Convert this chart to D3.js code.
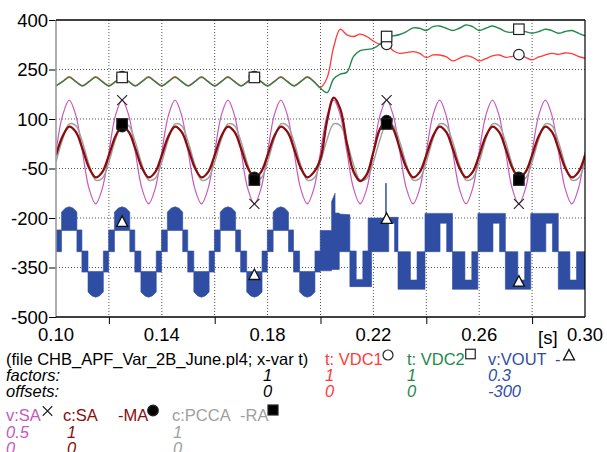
<!DOCTYPE html>
<html>
<head>
<meta charset="utf-8">
<script src="https://cdn.jsdelivr.net/npm/d3@7"></script>
<style>
  body { margin: 0; background: #fff; }
  svg { display: block; font-family: 'Liberation Sans', Arial, sans-serif; }
</style>
</head>
<body>
<div id="chart"></div>
<script>
// samples every 2.5 ms from 0.10 s to 0.30 s
const sampleStep = 0.0025;
const sampleCount = 81;

const vdc1 = [
  201, 214, 228, 214, 201, 214, 228, 214, 201, 214, 228, 214, 201, 214, 228, 214,
  201, 214, 228, 214, 201, 214, 228, 214, 201, 214, 228, 214, 201, 214, 228, 214,
  201, 214, 228, 214, 201, 214, 228, 214,
  196, 225, 319, 372, 355, 350, 357, 350, 336, 326, 326, 307, 299, 301, 304, 299,
  286, 294, 294, 289, 276, 284, 291, 287, 276, 283, 291, 294, 287, 290, 295, 287,
  279, 288, 294, 299, 296, 300, 298, 290, 284,
];

const vdc2 = [
  200, 213, 226, 213, 200, 213, 226, 213, 200, 213, 226, 213, 200, 213, 226, 213,
  200, 213, 226, 213, 200, 213, 226, 213, 200, 213, 226, 213, 200, 213, 226, 213,
  200, 213, 226, 213, 200, 213, 226, 213,
  193, 180, 222, 236, 242, 290, 307, 311, 314, 327, 350, 352, 356, 365, 376, 375,
  368, 380, 382, 375, 368, 375, 385, 380, 368, 375, 382, 375, 365, 363, 372, 365,
  360, 365, 372, 368, 360, 365, 368, 360, 352,
];

const vSA = [
  0, 111, 157, 111, 0, -111, -157, -111, 0, 111, 157, 111, 0, -111, -157, -111,
  0, 111, 157, 111, 0, -111, -157, -111, 0, 111, 157, 111, 0, -111, -157, -111,
  0, 111, 157, 111, 0, -111, -157, -111, 0, 111, 157, 111, 0, -111, -157, -111,
  0, 111, 157, 111, 0, -111, -157, -111, 0, 111, 157, 111, 0, -111, -157, -111,
  0, 111, 157, 111, 0, -111, -157, -111, 0, 111, 157, 111, 0, -111, -157, -111,
  0,
];

const cSA = [
  -10, 48, 77, 61, 10, -48, -77, -61, -10, 48, 77, 61, 10, -48, -77, -61,
  -10, 48, 77, 61, 10, -48, -77, -61, -10, 48, 77, 61, 10, -48, -77, -61,
  -10, 48, 77, 61, 10, -48, -77, -61,
  -20, 95, 165, 130, 25, -60, -88, -68, 0, 70, 95, 70, 10, -48, -77, -61,
  -10, 48, 77, 61, 10, -48, -77, -61, -10, 48, 77, 61, 10, -48, -77, -61,
  -10, 48, 77, 61, 10, -48, -77, -61, -10,
];

const cPCCA = [
  -30, 38, 85, 80, 30, -38, -85, -80, -30, 38, 85, 80, 30, -38, -85, -80,
  -30, 38, 85, 80, 30, -38, -85, -80, -30, 38, 85, 80, 30, -38, -85, -80,
  -30, 38, 85, 80, 30, -38, -85, -80, -30, 38, 85, 80, 30, -38, -85, -80,
  -30, 38, 85, 80, 30, -38, -85, -80, -30, 38, 85, 80, 30, -38, -85, -80,
  -30, 38, 85, 80, 30, -38, -85, -80, -30, 38, 85, 80, 30, -38, -85, -80,
  -30,
];

// VOUT*0.3-300 switching band: [t, upper, lower]
const voutBand = [
  [0.1000, -236, -302], [0.1021, -236, -302],
  [0.1021, -182, -238], [0.1036, -170, -238], [0.1050, -166, -238], [0.1064, -170, -238], [0.1079, -182, -238],
  [0.1079, -236, -302], [0.1098, -236, -302], [0.1098, -300, -364], [0.1121, -300, -364],
  [0.1121, -362, -424], [0.1136, -362, -436], [0.1150, -362, -440], [0.1164, -362, -436], [0.1179, -362, -424],
  [0.1179, -300, -364], [0.1199, -300, -364],

  [0.1199, -236, -302], [0.1221, -236, -302],
  [0.1221, -182, -238], [0.1236, -170, -238], [0.1250, -166, -238], [0.1264, -170, -238], [0.1279, -182, -238],
  [0.1279, -236, -302], [0.1298, -236, -302], [0.1298, -300, -364], [0.1321, -300, -364],
  [0.1321, -362, -424], [0.1336, -362, -436], [0.1350, -362, -440], [0.1364, -362, -436], [0.1379, -362, -424],
  [0.1379, -300, -364], [0.1399, -300, -364],

  [0.1399, -236, -302], [0.1421, -236, -302],
  [0.1421, -182, -238], [0.1436, -170, -238], [0.1450, -166, -238], [0.1464, -170, -238], [0.1479, -182, -238],
  [0.1479, -236, -302], [0.1498, -236, -302], [0.1498, -300, -364], [0.1521, -300, -364],
  [0.1521, -362, -424], [0.1536, -362, -436], [0.1550, -362, -440], [0.1564, -362, -436], [0.1579, -362, -424],
  [0.1579, -300, -364], [0.1599, -300, -364],

  [0.1599, -236, -302], [0.1621, -236, -302],
  [0.1621, -182, -238], [0.1636, -170, -238], [0.1650, -166, -238], [0.1664, -170, -238], [0.1679, -182, -238],
  [0.1679, -236, -302], [0.1698, -236, -302], [0.1698, -300, -364], [0.1721, -300, -364],
  [0.1721, -362, -424], [0.1736, -362, -436], [0.1750, -362, -440], [0.1764, -362, -436], [0.1779, -362, -424],
  [0.1779, -300, -364], [0.1799, -300, -364],

  [0.1799, -236, -302], [0.1821, -236, -302],
  [0.1821, -182, -238], [0.1836, -170, -238], [0.1850, -166, -238], [0.1864, -170, -238], [0.1879, -182, -238],
  [0.1879, -236, -302], [0.1898, -236, -302], [0.1898, -300, -364], [0.1921, -300, -364],
  [0.1921, -362, -424], [0.1936, -362, -436], [0.1950, -362, -440], [0.1964, -362, -436], [0.1979, -362, -424],
  [0.1979, -300, -364], [0.1999, -300, -364],

  [0.1999, -238, -360], [0.2042, -238, -360], [0.2042, -150, -356], [0.2055, -125, -356],
  [0.2055, -185, -356], [0.2071, -185, -356], [0.2071, -188, -302], [0.2111, -190, -302],
  [0.2111, -300, -408], [0.2135, -300, -408], [0.2135, -386, -408], [0.2160, -386, -408],
  [0.2160, -300, -408], [0.2180, -300, -408], [0.2180, -200, -408], [0.2193, -200, -408],
  [0.2193, -200, -302], [0.2246, -200, -302], [0.2246, -95, -302], [0.2249, -95, -302],
  [0.2249, -198, -302], [0.2258, -198, -302], [0.2258, -198, -216], [0.2280, -198, -216],
  [0.2280, -198, -302], [0.2293, -198, -302],
  [0.2293, -302, -416], [0.2340, -302, -416], [0.2340, -388, -416], [0.2365, -388, -416],
  [0.2365, -302, -416], [0.2395, -302, -416],

  [0.2395, -186, -302], [0.2452, -186, -302], [0.2452, -186, -216], [0.2477, -186, -216],
  [0.2477, -186, -302], [0.2499, -186, -302],
  [0.2499, -302, -416], [0.2546, -302, -416], [0.2546, -388, -416], [0.2572, -388, -416],
  [0.2572, -302, -416], [0.2595, -302, -416],

  [0.2595, -186, -302], [0.2652, -186, -302], [0.2652, -186, -216], [0.2677, -186, -216],
  [0.2677, -186, -302], [0.2699, -186, -302],
  [0.2699, -302, -416], [0.2746, -302, -416], [0.2746, -388, -416], [0.2772, -388, -416],
  [0.2772, -302, -416], [0.2795, -302, -416],

  [0.2795, -186, -302], [0.2852, -186, -302], [0.2852, -186, -216], [0.2877, -186, -216],
  [0.2877, -186, -302], [0.2899, -186, -302],
  [0.2899, -302, -416], [0.2943, -302, -416], [0.2943, -388, -416], [0.2968, -388, -416],
  [0.2968, -302, -416], [0.3000, -302, -416],
];

const markerTimes = [0.125, 0.175, 0.225, 0.275];
const voutMarkerValues = [-212, -373, -203, -393];

const xTicks = [0.10, 0.12, 0.14, 0.16, 0.18, 0.20, 0.22, 0.24, 0.26, 0.28, 0.30];
const xLabelTicks = [0.10, 0.14, 0.18, 0.22, 0.26, 0.30];
const yTicks = [400, 250, 100, -50, -200, -350, -500];

const colors = {
  vdc1: '#ff3b3b',
  vdc2: '#23894a',
  vout: '#2f4ea3',
  vSA: '#c858bd',
  cSA: '#8a0c0c',
  cPCCA: '#a0a0a0',
};

const margin = { top: 20, right: 22, bottom: 135, left: 56 };
const rawWidth = 607;
const rawHeight = 452;
const width = rawWidth - margin.left - margin.right;
const height = rawHeight - margin.top - margin.bottom;

const sampleTimes = d3.range(sampleCount).map(i => 0.1 + i * sampleStep);
const at = (series, t) => series[Math.round((t - 0.1) / sampleStep)];

const xScale = d3.scaleLinear().domain([0.1, 0.3]).range([0, width]);
const yScale = d3.scaleLinear().domain([-500, 400]).range([height, 0]);

const svg = d3.select('#chart').append('svg')
  .attr('width', rawWidth)
  .attr('height', rawHeight);

const plot = svg.append('g')
  .attr('transform', `translate(${margin.left},${margin.top})`);

svg.append('defs').append('clipPath')
  .attr('id', 'plotClip')
  .append('rect')
  .attr('width', width)
  .attr('height', height);

// grid
plot.append('g')
  .selectAll('line')
  .data(yTicks.filter(d => d !== 400 && d !== -500))
  .enter()
  .append('line')
  .attr('x1', 0)
  .attr('x2', width)
  .attr('y1', d => yScale(d))
  .attr('y2', d => yScale(d))
  .style('stroke', '#555')
  .style('stroke-dasharray', '1,2');

plot.append('g')
  .selectAll('line')
  .data(xTicks.slice(1, -1))
  .enter()
  .append('line')
  .attr('x1', d => xScale(d))
  .attr('x2', d => xScale(d))
  .attr('y1', 0)
  .attr('y2', height)
  .style('stroke', '#555')
  .style('stroke-dasharray', '1,2');

const curves = plot.append('g').attr('clip-path', 'url(#plotClip)');

const band = d3.area()
  .x(d => xScale(d[0]))
  .y0(d => yScale(d[2]))
  .y1(d => yScale(d[1]));

const seriesLine = d3.line()
  .curve(d3.curveCatmullRom)
  .x((d, i) => xScale(sampleTimes[i]))
  .y(d => yScale(d));

curves.append('path')
  .datum(vdc1)
  .attr('d', seriesLine)
  .style('fill', 'none')
  .style('stroke', colors.vdc1)
  .style('stroke-width', '1.3px');

curves.append('path')
  .datum(vdc2)
  .attr('d', seriesLine)
  .style('fill', 'none')
  .style('stroke', colors.vdc2)
  .style('stroke-width', '1.4px');

curves.append('path')
  .datum(voutBand)
  .attr('d', band)
  .style('fill', colors.vout)
  .style('stroke', colors.vout)
  .style('stroke-width', '0.6px');

curves.append('path')
  .datum(vSA)
  .attr('d', seriesLine)
  .style('fill', 'none')
  .style('stroke', colors.vSA)
  .style('stroke-width', '1.2px');

curves.append('path')
  .datum(cPCCA)
  .attr('d', seriesLine)
  .style('fill', 'none')
  .style('stroke', colors.cPCCA)
  .style('stroke-width', '1.4px');

curves.append('path')
  .datum(cSA)
  .attr('d', seriesLine)
  .style('fill', 'none')
  .style('stroke', colors.cSA)
  .style('stroke-width', '2.3px');

// markers
const marks = plot.append('g');
const drawSquare = (g, cx, cy, s, fill) => g.append('rect')
  .attr('x', cx - s / 2).attr('y', cy - s / 2)
  .attr('width', s).attr('height', s)
  .style('fill', fill).style('stroke', '#222').style('stroke-width', '1.2px');
const drawCircle = (g, cx, cy, r, fill) => g.append('circle')
  .attr('cx', cx).attr('cy', cy).attr('r', r)
  .style('fill', fill).style('stroke', '#222').style('stroke-width', '1.2px');
const drawTriangle = (g, cx, cy, s) => g.append('path')
  .attr('d', `M${cx},${cy - s * 0.55}L${cx + s / 2},${cy + s * 0.4}L${cx - s / 2},${cy + s * 0.4}Z`)
  .style('fill', '#fff').style('stroke', '#111').style('stroke-width', '1.3px');
const drawCross = (g, cx, cy, s) => g.append('path')
  .attr('d', `M${cx - s / 2},${cy - s / 2}L${cx + s / 2},${cy + s / 2}M${cx + s / 2},${cy - s / 2}L${cx - s / 2},${cy + s / 2}`)
  .style('fill', 'none').style('stroke', '#222').style('stroke-width', '1.1px');

markerTimes.forEach((t, i) => {
  const cx = xScale(t);
  drawCircle(marks, cx, yScale(at(vdc1, t)), 5.3, '#fff');
  drawSquare(marks, cx, yScale(at(vdc2, t)), 10.5, '#fff');
  drawTriangle(marks, cx, yScale(voutMarkerValues[i]), 11);
  drawCross(marks, cx, yScale(at(vSA, t)), 10);
  drawCircle(marks, cx, yScale(at(cSA, t)), 5.3, '#000');
  drawSquare(marks, cx, yScale(at(cPCCA, t)), 10.5, '#000');
});

// axes
const xAxis = d3.axisBottom(xScale)
  .tickValues(xTicks.filter(d => !xLabelTicks.includes(d)))
  .tickSize(7)
  .tickFormat('');
const yAxis = d3.axisLeft(yScale)
  .tickValues(yTicks)
  .tickSize(7)
  .tickFormat('');

plot.append('g')
  .attr('class', 'x axis')
  .attr('transform', `translate(0,${height})`)
  .call(xAxis)
  .call(g => g.select('.domain').remove())
  .selectAll('line')
  .style('stroke', '#000');

plot.append('g')
  .attr('class', 'y axis')
  .call(yAxis)
  .call(g => g.select('.domain').remove())
  .selectAll('line')
  .style('stroke', '#000');

plot.append('line')
  .attr('x1', 0).attr('x2', 0).attr('y1', 0).attr('y2', height)
  .style('stroke', '#9a9a9a').style('stroke-width', '1.6px');
plot.append('line')
  .attr('x1', 0).attr('x2', width).attr('y1', 0).attr('y2', 0)
  .style('stroke', '#000').style('stroke-width', '1.5px');
plot.append('line')
  .attr('x1', width).attr('x2', width).attr('y1', 0).attr('y2', height)
  .style('stroke', '#000').style('stroke-width', '1.2px');
plot.append('line')
  .attr('x1', 0).attr('x2', width).attr('y1', height).attr('y2', height)
  .style('stroke', '#000').style('stroke-width', '1.5px');

plot.append('g')
  .selectAll('text')
  .data(yTicks)
  .enter()
  .append('text')
  .attr('x', -8)
  .attr('y', d => yScale(d) + 6.5)
  .attr('text-anchor', 'end')
  .style('font-size', '18.5px')
  .text(d => d);

plot.append('g')
  .selectAll('text')
  .data(xLabelTicks)
  .enter()
  .append('text')
  .attr('x', d => xScale(d))
  .attr('y', height + 24)
  .attr('text-anchor', 'middle')
  .style('font-size', '18.5px')
  .text(d => d3.format('.2f')(d));

plot.append('text')
  .attr('x', xScale(0.3) - 47)
  .attr('y', height + 27)
  .style('font-size', '18.5px')
  .text('[s]');

// legend
const legend = svg.append('g').style('font-size', '16.5px');
const addText = (x, y, str, color, italic) => legend.append('text')
  .attr('x', x)
  .attr('y', y)
  .style('fill', color)
  .style('font-style', italic ? 'italic' : 'normal')
  .text(str);

addText(6, 365, '(file CHB_APF_Var_2B_June.pl4; x-var t)', '#000');
addText(325, 365, 't: VDC1', colors.vdc1);
addText(407, 365, 't: VDC2', colors.vdc2);
addText(488, 365, 'v:VOUT', colors.vout);
addText(555, 365, '-', colors.vout);
addText(6, 381, 'factors:', '#000', true);
addText(6, 397, 'offsets:', '#000', true);
addText(263, 381, '1', '#000', true);
addText(263, 397, '0', '#000', true);
addText(325, 381, '1', colors.vdc1, true);
addText(325, 397, '0', colors.vdc1, true);
addText(407, 381, '1', colors.vdc2, true);
addText(407, 397, '0', colors.vdc2, true);
addText(488, 381, '0.3', colors.vout, true);
addText(488, 397, '-300', colors.vout, true);

addText(6, 421, 'v:SA', colors.vSA);
addText(63, 421, 'c:SA', colors.cSA);
addText(118, 421, '-MA', colors.cSA);
addText(172, 421, 'c:PCCA', colors.cPCCA);
addText(240, 421, '-RA', colors.cPCCA);
addText(6, 437.5, '0.5', colors.vSA, true);
addText(6, 454, '0', colors.vSA, true);
addText(67, 437.5, '1', colors.cSA, true);
addText(67, 454, '0', colors.cSA, true);
addText(173, 437.5, '1', colors.cPCCA, true);
addText(173, 454, '0', colors.cPCCA, true);

drawCircle(legend, 388, 355, 5, '#fff');
drawSquare(legend, 470.5, 354, 9.5, '#fff');
drawTriangle(legend, 569, 355.5, 11);
drawCross(legend, 47.5, 411, 9.5);
drawCircle(legend, 153, 410.5, 5.3, '#000');
drawSquare(legend, 273, 410, 10, '#000');
</script>
</body>
</html>
